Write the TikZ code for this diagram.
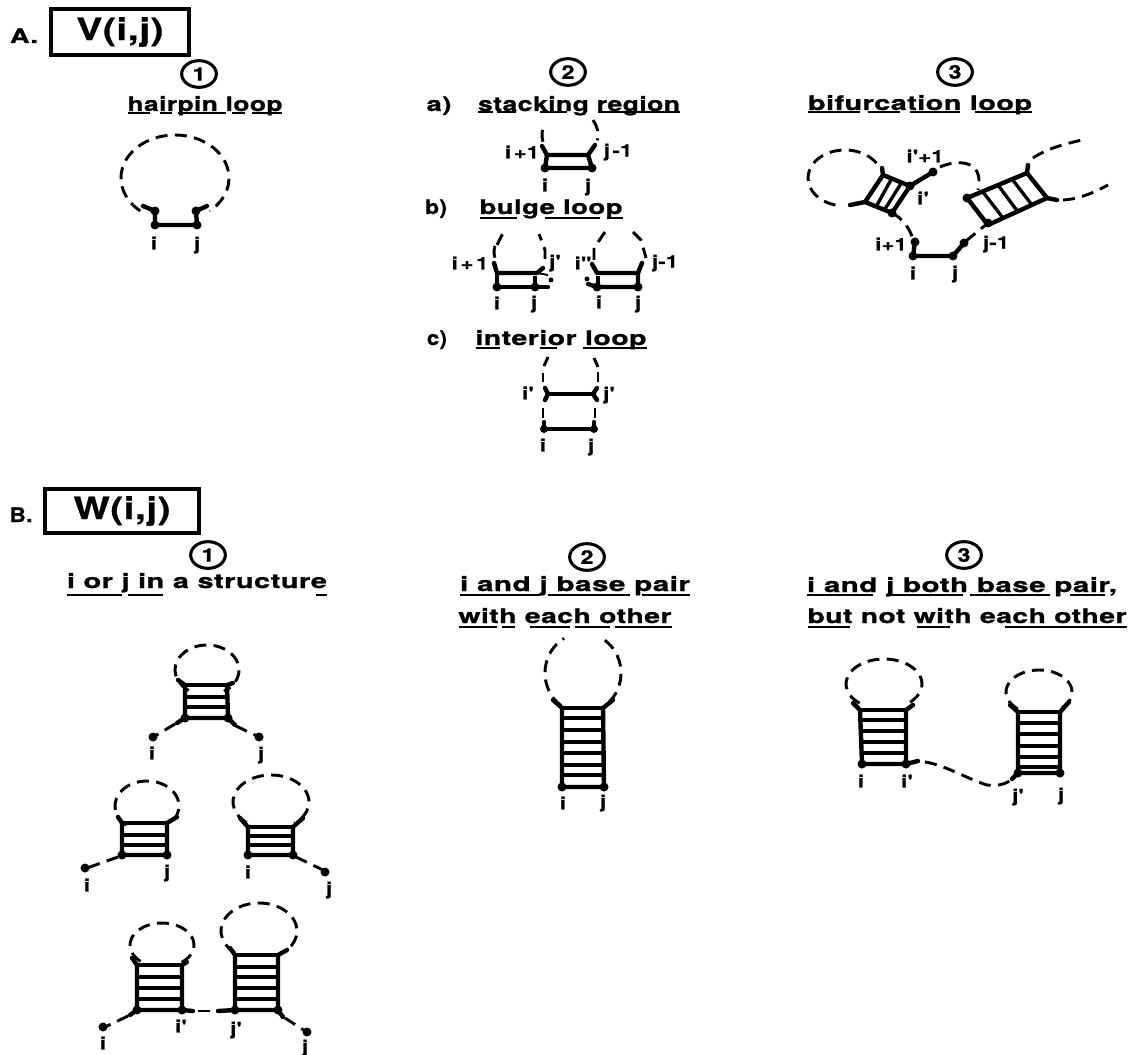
\documentclass[tikz,border=0pt]{standalone}
\usepackage{fontspec}
\usepackage{tikz}
\usetikzlibrary{shapes.geometric}
\newfontfamily\labfont[FakeStretch=1.25,LetterSpace=2,FakeBold=1]{TeX Gyre Heros}
\tikzset{
  strand/.style={line width=3.3pt, line cap=round, line join=round},
  rung/.style={line width=2.5pt},
  dashloop/.style={line width=2.2pt, dash pattern=on 9pt off 5.5pt},
  lab/.style={font=\labfont\bfseries\fontsize{13}{13}\selectfont, inner sep=0pt},
  title/.style={font=\labfont\bfseries\fontsize{15}{15}\selectfont, inner sep=0pt, anchor=base},
  headbox/.style={draw, line width=3pt, font=\labfont\bfseries\fontsize{23}{23}\selectfont},
  numring/.style={draw, ellipse, line width=2.3pt, inner sep=0pt, minimum width=26pt, minimum height=20pt, font=\labfont\bfseries\fontsize{14}{14}\selectfont},
  uline/.style={line width=1.6pt}
}
\newcommand{\fitw}[2]{\resizebox{\dimexpr #1pt*3/4\relax}{\height}{#2}}
\newcommand{\ulsegs}[2]{\foreach \ua/\ub in {#2} \draw[uline] (\ua,#1) -- (\ub,#1);}
\newcommand{\looparc}[6]{\draw[dashloop] ({#1+#3*cos(#5)},{#2+#4*sin(#5)}) arc[start angle=#5, end angle=#6, x radius=#3, y radius=#4];}
\newcommand{\rungset}[3]{\foreach \rungy in {#3} \draw[rung] (#1,\rungy) -- (#2,\rungy);}
\begin{document}
\begin{tikzpicture}[x=0.75pt, y=-0.75pt]
    \useasboundingbox (0,0) rectangle (1137,1055);

    \node[title] (partA) at (24,43) {\fitw{28}{A.}};
    \node[headbox, minimum width=104pt, minimum height=34pt] (boxV) at (120,32) {\fitw{87}{V(i,j)}};
    \node[numring] (ringA1) at (199,74) {1};
    \node[numring] (ringA2) at (568,72) {2};
    \node[numring] (ringA3) at (955,72) {3};

    \node[title] (tHairpin) at (205,111) {\fitw{155}{hairpin loop}};
    \ulsegs{113}{128/150,160/172,178/226,232/245,252/282}
    \node[title] (tA) at (439,111) {\fitw{25}{a)}};
    \node[title] (tStack) at (579,111) {\fitw{202}{stacking region}};
    \ulsegs{112}{478/493,497/516,540/567,598/680}
    \node[title] (tB) at (436,214) {\fitw{22}{b)}};
    \node[title] (tBulge) at (551,214) {\fitw{143}{bulge loop}};
    \ulsegs{218}{480/517,545/600,607/623}
    \node[title] (tC) at (437,345) {\fitw{20}{c)}};
    \node[title] (tInterior) at (561,345) {\fitw{171}{interior loop}};
    \ulsegs{348}{476/500,540/557,583/647}
    \node[title] (tBif) at (920,110) {\fitw{224}{bifurcation loop}};
    \ulsegs{112}{808/860,868/900,910/960,975/1032}

    \looparc{175}{178}{54}{43}{130}{410}
    \draw[strand] (143,206) -- (155,211) -- (155,225) -- (197,225) -- (196,211) -- (207,206);
    \foreach \p in {(155,225),(197,225),(155,211),(196,211)} \fill \p circle[radius=4.5];
    \node[lab] (hi) at (154,243) {i};
    \node[lab] (hj) at (197,245) {j};

    \looparc{570}{135}{28}{26}{165}{205}
    \looparc{570}{135}{28}{26}{325}{372}
    \draw[strand] (542,146) -- (547,155) -- (588,155) -- (595,145);
    \draw[strand] (547,155) -- (545,168) -- (592,168) -- (588,155);
    \foreach \p in {(545,168),(592,168)} \fill \p circle[radius=4.5];
    \node[lab] (si1) at (522,152) {i\,+1};
    \node[lab] (sj1) at (618,152) {j\,-1};
    \node[lab] (si) at (545,185) {i};
    \node[lab] (sj) at (588,187) {j};

    \looparc{520}{252}{26}{22}{165}{205}
    \draw[dashloop] (497,245) -- (503,233);
    \draw[dashloop] (545,259) -- (545,250) -- (539,234);
    \draw[strand] (494,263) -- (497,273) -- (537,273) -- (543,268);
    \draw[strand] (497,273) -- (497,287) -- (535,287) -- (548,287);
    \draw[rung] (535,276) -- (535,284);
    \draw[line width=1.4pt] (537,273) -- (548,275);
    \fill (551,280) circle[radius=2.5];
    \foreach \p in {(497,287),(535,287)} \fill \p circle[radius=4.5];
    \node[lab] (bi1) at (470,263) {i\,+\,1};
    \node[lab] (bjp) at (555,263) {j'};
    \node[lab] (bi) at (497,303) {i};
    \node[lab] (bj) at (534,304) {j};

    \draw[dashloop] (594,260) -- (594,248) -- (605,232);
    \draw[dashloop] (633,232) -- (641,240) -- (646,258);
    \draw[strand] (592,264) -- (597,273) -- (638,273) -- (642,263);
    \draw[strand] (588,284) -- (597,287) -- (638,287) -- (638,273);
    \draw[rung] (598,276) -- (598,284);
    \fill (587,279) circle[radius=2.5];
    \foreach \p in {(597,287),(638,287)} \fill \p circle[radius=4.5];
    \node[lab] (ci) at (583,263) {i"};
    \node[lab] (cj1) at (665,263) {j-1};
    \node[lab] (ci0) at (599,302) {i};
    \node[lab] (cj0) at (638,304) {j};

    \draw[dashloop] (548,357) -- (544,366);
    \draw[dashloop] (543,373) -- (543,382);
    \draw[dashloop] (594,358) -- (598,367);
    \draw[dashloop] (598,372) -- (598,382);
    \draw[dashloop] (543,408) -- (543,418);
    \draw[dashloop] (595,408) -- (595,418);
    \draw[strand] (545,388) -- (548,394) -- (545,400);
    \draw[strand] (597,388) -- (593,394) -- (597,400);
    \draw[strand] (548,394) -- (593,394);
    \draw[strand] (544,422) -- (544,429) -- (594,429) -- (594,422);
    \foreach \p in {(544,429),(594,429)} \fill \p circle[radius=4];
    \node[lab] (ip) at (528,393) {i'};
    \node[lab] (jp) at (609,395) {j'};
    \node[lab] (ii) at (543,445) {i};
    \node[lab] (ij) at (591,447) {j};

    \looparc{845}{178}{37}{28}{328}{100}
    \draw[strand] (850,205) -- (865,202) -- (892,213) -- (910,186) -- (883,175) -- (865,202);
    \draw[strand] (883,175) -- (882,168);
    \draw[rung] (892,178) -- (877,205);
    \draw[rung] (902,182) -- (885,209);
    \draw[strand] (910,186) -- (933,172);
    \draw[dashloop] (940,167) .. controls (955,160) and (985,158) .. (978,190);
    \draw[dashloop] (892,213) .. controls (902,218) and (910,228) .. (914,242);
    \draw[strand] (915,242) -- (913,256) -- (953,256) -- (964,243);
    \draw[dashloop] (966,241) -- (988,223);
    \draw[strand] (967,198) -- (1027,173) -- (1047,198) -- (988,225) -- cycle;
    \draw[strand] (1027,173) -- (1028,165);
    \draw[strand] (1047,198) -- (1057,200);
    \draw[rung] (983,192) -- (1003,218);
    \draw[rung] (998,185) -- (1018,212);
    \draw[rung] (1012,179) -- (1032,205);
    \draw[dashloop] (1033,158) .. controls (1048,148) and (1065,144) .. (1082,140);
    \draw[dashloop] (1063,200) .. controls (1080,199) and (1095,192) .. (1108,185);
    \foreach \p in {(933,172),(915,242),(913,256),(953,256),(964,243),(892,213),(967,198),(988,223),(910,186)} \fill \p circle[radius=4.5];
    \node[lab] (fip1) at (925,156) {i'+1};
    \node[lab] (fip) at (923,198) {i'};
    \node[lab] (fi1) at (891,244) {i+1};
    \node[lab] (fj1) at (996,244) {j-1};
    \node[lab] (fi) at (913,273) {i};
    \node[lab] (fj) at (955,274) {j};

    \node[title] (partB) at (21,522) {\fitw{23}{B.}};
    \node[headbox, minimum width=116pt, minimum height=33pt] (boxW) at (122,511) {\fitw{97}{W(i,j)}};
    \node[numring] (ringB1) at (208,555) {1};
    \node[numring] (ringB2) at (587,557) {2};
    \node[numring] (ringB3) at (964,555) {3};
    \node[title] (tOr) at (197,588) {\fitw{260}{i or j in a structure}};
    \ulsegs{595}{67/122,128/163,316/327}
    \node[title] (tAnd1) at (575,591) {\fitw{230}{i and j base pair}};
    \ulsegs{595}{460/540,548/630,642/690}
    \node[title] (tWith1) at (565,623) {\fitw{213}{with each other}};
    \ulsegs{627}{459/497,502/515,530/570,575/610,615/672}
    \node[title] (tAnd2) at (962,592) {\fitw{310}{i and j both base pair,}};
    \ulsegs{595}{807/873,887/963,970/1050,1070/1105}
    \node[title] (tNot) at (967,623) {\fitw{319}{but not with each other}};
    \ulsegs{627}{808/850,917/950,1005/1127}

    \looparc{207}{670}{32}{25}{125}{418}
    \draw[strand] (178,680) -- (185,685) -- (185,718) -- (228,718) -- (227,685) -- (233,683);
    \rungset{185}{227}{685,697,707}
    \draw[strand] (185,718) -- (177,723);
    \draw[strand] (228,718) -- (235,725);
    \draw[dashloop] (175,724) -- (155,736);
    \draw[dashloop] (236,726) -- (257,736);
    \foreach \p in {(153,737),(259,737),(185,718),(228,718)} \fill \p circle[radius=4.5];
    \node[lab] (ai) at (152,753) {i};
    \node[lab] (aj) at (261,755) {j};

    \looparc{147}{806}{32}{25}{130}{415}
    \draw[strand] (118,817) -- (122,823) -- (122,855) -- (167,855) -- (167,823) -- (177,817);
    \rungset{122}{167}{823,835,845}
    \draw[dashloop] (118,857) -- (87,868);
    \foreach \p in {(85,868),(122,855),(167,855)} \fill \p circle[radius=4.5];
    \node[lab] (di) at (87,885) {i};
    \node[lab] (dj) at (167,873) {j};

    \looparc{271}{802}{38}{27}{130}{412}
    \draw[strand] (240,818) -- (248,827) -- (248,855) -- (293,855) -- (293,827) -- (303,818);
    \rungset{248}{293}{827,836,845}
    \draw[dashloop] (296,857) -- (325,871);
    \foreach \p in {(325,872),(248,855),(293,855)} \fill \p circle[radius=4.5];
    \node[lab] (ei) at (248,872) {i};
    \node[lab] (ej) at (329,890) {j};

    \looparc{162}{945}{32}{22}{132}{412}
    \draw[strand] (132,958) -- (137,965) -- (137,1010) -- (182,1010) -- (182,965) -- (187,962);
    \rungset{137}{182}{965,977,988,999}
    \draw[strand] (137,1010) -- (130,1015);
    \draw[dashloop] (128,1016) -- (105,1027);
    \draw[strand] (182,1010) -- (193,1011);
    \draw[dashloop] (198,1011) -- (212,1011);
    \draw[strand] (218,1011) -- (235,1010);
    \foreach \p in {(103,1027),(137,1010),(182,1010),(235,1010),(278,1010)} \fill \p circle[radius=4.5];
    \node[lab] (gi) at (103,1043) {i};
    \node[lab] (gip) at (181,1026) {i'};

    \looparc{259}{931}{38}{28}{130}{410}
    \draw[strand] (230,948) -- (235,955) -- (235,1010) -- (278,1010) -- (278,955) -- (287,950);
    \rungset{235}{278}{955,967,977,988,999}
    \draw[strand] (278,1010) -- (283,1017);
    \draw[dashloop] (285,1018) -- (305,1031);
    \fill (307,1032) circle[radius=4.5];
    \node[lab] (gjp) at (236,1030) {j'};
    \node[lab] (gj) at (305,1048) {j};

    \looparc{583}{673}{38}{40}{125}{240}
    \looparc{583}{673}{38}{40}{305}{415}
    \draw[strand] (553,700) -- (562,708) -- (562,787) -- (604,787) -- (603,708) -- (613,700);
    \rungset{562}{603}{708,718,730,742,753,765,775}
    \foreach \p in {(562,787),(604,787)} \fill \p circle[radius=4.5];
    \node[lab] (pi) at (563,803) {i};
    \node[lab] (pj) at (603,803) {j};

    \looparc{884}{684}{38}{25}{130}{410}
    \draw[strand] (853,703) -- (860,710) -- (862,764) -- (906,764) -- (906,710) -- (913,705);
    \rungset{860}{906}{710,720,731,742,753}
    \draw[strand] (906,764) -- (918,761);
    \draw[dashloop] (925,762) .. controls (945,765) and (965,778) .. (987,785) .. controls (997,786) and (1006,785) .. (1013,778);
    \foreach \p in {(862,764),(906,764)} \fill \p circle[radius=4.5];
    \node[lab] (qi) at (861,781) {i};
    \node[lab] (qip) at (907,781) {i'};

    \looparc{1039}{692}{33}{22}{130}{410}
    \draw[strand] (1010,705) -- (1018,712) -- (1018,773) -- (1060,773) -- (1060,712) -- (1069,702);
    \rungset{1018}{1060}{712,723,734,746,757,767}
    \draw[strand] (1018,773) -- (1012,779);
    \foreach \p in {(1018,773),(1060,773)} \fill \p circle[radius=4.5];
    \node[lab] (qjp) at (1018,797) {j'};
    \node[lab] (qj) at (1061,796) {j};
\end{tikzpicture}
\end{document}
